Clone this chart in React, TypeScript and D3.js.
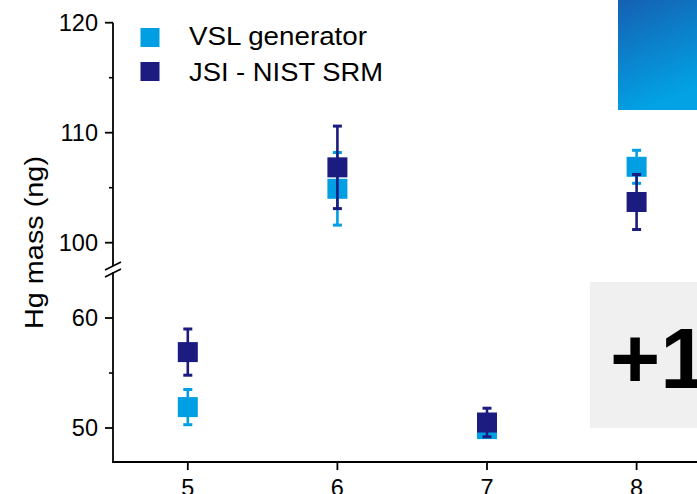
import React from "react";
import * as d3 from "d3";

const categories = [5, 6, 7, 8];
const vslValues = [51.9, 104.9, 49.9, 106.9];
const vslErrors = [1.6, 3.3, 0.4, 1.5];
const jsiValues = [56.9, 106.85, 50.5, 103.7];
const jsiErrors = [2.1, 3.75, 1.3, 2.5];
const upperTicks = [100, 110, 120];
const upperMinor = [105, 115];
const lowerTicks = [50, 60];
const lowerMinor = [55];
const seriesNames = ["VSL generator", "JSI - NIST SRM"];

const W = 697;
const H = 494;
const LIGHT = "#009FE3";
const DARK = "#1B1B80";
const FONT = "Liberation Sans, Arial, Helvetica, sans-serif";

export default function App() {
  const x = d3.scaleLinear().domain([4.5, 9.5]).range([113, 113 + 5 * 149.6]);
  const yUp = d3.scaleLinear().domain([98, 120]).range([264.7, 22.7]);
  const yLo = d3.scaleLinear().domain([47, 64]).range([461, 274]);
  const y = (v: number) => (v >= 80 ? yUp(v) : yLo(v));
  const axisX = 113;
  const axisY = 462;
  const sq = 20;
  const cap = 4.5;
  const tickFont = 23.5;

  const series = [
    { name: seriesNames[0], values: vslValues, errors: vslErrors, color: LIGHT },
    { name: seriesNames[1], values: jsiValues, errors: jsiErrors, color: DARK },
  ];

  return (
    <svg
      width={W}
      height={H}
      style={{ position: "absolute", left: 0, top: 0, background: "#fff" }}
      fontFamily={FONT}
    >
      <defs>
        <linearGradient id="bluegrad" x1="0" y1="0" x2="0.3" y2="1">
          <stop offset="0" stopColor="#1560B2" />
          <stop offset="1" stopColor="#02A2E4" />
        </linearGradient>
      </defs>
      <rect x={0} y={0} width={W} height={H} fill="#fff" />

      {/* decorative overlays at the right */}
      <rect x={618} y={0} width={W - 618} height={110} fill="url(#bluegrad)" />
      <rect x={590} y={282} width={W - 590} height={146} fill="#F0F0F0" />
      <text x={610} y={388} fontSize={86} fontWeight="bold" fill="#000">
        +1
      </text>

      {/* y axis (broken) */}
      <line x1={axisX} x2={axisX} y1={yUp(120)} y2={266} stroke="#000" strokeWidth={1.8} />
      <line x1={axisX} x2={axisX} y1={272} y2={axisY} stroke="#000" strokeWidth={1.8} />
      <line x1={105} y1={270} x2={121} y2={262} stroke="#000" strokeWidth={1.6} />
      <line x1={105} y1={277} x2={121} y2={269} stroke="#000" strokeWidth={1.6} />

      {upperTicks.map((t) => (
        <g key={"u" + t}>
          <line x1={axisX - 8} x2={axisX} y1={yUp(t)} y2={yUp(t)} stroke="#000" strokeWidth={1.8} />
          <text x={98} y={yUp(t)} dy="0.36em" textAnchor="end" fontSize={tickFont} fill="#000">
            {t}
          </text>
        </g>
      ))}
      {upperMinor.map((t) => (
        <line key={"um" + t} x1={axisX - 4} x2={axisX} y1={yUp(t)} y2={yUp(t)} stroke="#000" strokeWidth={1.6} />
      ))}
      {lowerTicks.map((t) => (
        <g key={"l" + t}>
          <line x1={axisX - 8} x2={axisX} y1={yLo(t)} y2={yLo(t)} stroke="#000" strokeWidth={1.8} />
          <text x={98} y={yLo(t)} dy="0.36em" textAnchor="end" fontSize={tickFont} fill="#000">
            {t}
          </text>
        </g>
      ))}
      {lowerMinor.map((t) => (
        <line key={"lm" + t} x1={axisX - 4} x2={axisX} y1={yLo(t)} y2={yLo(t)} stroke="#000" strokeWidth={1.6} />
      ))}

      {/* x axis */}
      <line x1={axisX - 0.9} x2={W + 5} y1={axisY} y2={axisY} stroke="#000" strokeWidth={1.8} />
      {categories.map((c) => (
        <g key={"x" + c}>
          <line x1={x(c)} x2={x(c)} y1={axisY} y2={axisY + 8} stroke="#000" strokeWidth={1.8} />
          <text x={x(c)} y={496} textAnchor="middle" fontSize={tickFont} fill="#000">
            {c}
          </text>
        </g>
      ))}

      {/* y title */}
      <text
        transform={`translate(43, 242.5) rotate(-90)`}
        textAnchor="middle"
        fontSize={25}
        textLength={173}
        lengthAdjust="spacingAndGlyphs"
        fill="#000"
      >
        Hg mass (ng)
      </text>

      {/* data */}
      {series.map((s) => (
        <g key={s.name}>
          {categories.map((c, i) => {
            const cx = x(c);
            const cy = y(s.values[i]);
            const top = y(s.values[i] + s.errors[i]);
            const bot = y(s.values[i] - s.errors[i]);
            return (
              <g key={c}>
                <rect x={cx - sq / 2} y={cy - sq / 2} width={sq} height={sq} fill={s.color} />
                <line x1={cx} x2={cx} y1={top} y2={bot} stroke={s.color} strokeWidth={2.6} />
                <line x1={cx - cap} x2={cx + cap} y1={top} y2={top} stroke={s.color} strokeWidth={3} />
                <line x1={cx - cap} x2={cx + cap} y1={bot} y2={bot} stroke={s.color} strokeWidth={3} />
              </g>
            );
          })}
        </g>
      ))}

      {/* legend */}
      {series.map((s, i) => (
        <g key={"lg" + i}>
          <rect x={140.5} y={28 + i * 34} width={19} height={19} fill={s.color} />
          <text
            x={189}
            y={45 + i * 36}
            fontSize={25}
            fill="#000"
            textLength={i === 0 ? 178 : 194}
            lengthAdjust="spacingAndGlyphs"
          >
            {s.name}
          </text>
        </g>
      ))}
    </svg>
  );
}
